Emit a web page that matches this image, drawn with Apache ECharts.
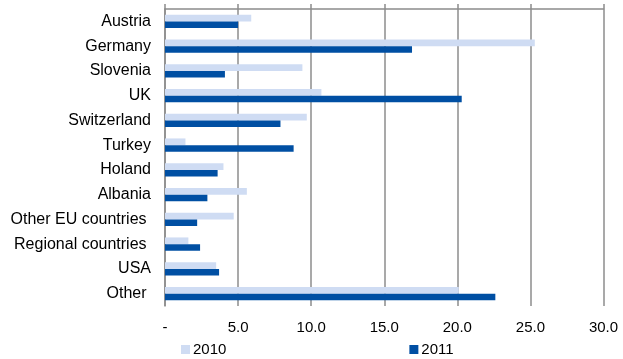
<!DOCTYPE html>
<html>
<head>
<meta charset="utf-8">
<script src="https://cdn.jsdelivr.net/npm/echarts@6/dist/echarts.min.js"></script>
<style>
  html, body { margin: 0; padding: 0; background: #fff; }
  #chart { width: 623px; height: 359px; }
</style>
</head>
<body>
<div id="chart"></div>
<script>
// Countries (trailing spaces keep the label spacing as typeset)
const categories = ['Austria', 'Germany', 'Slovenia', 'UK', 'Switzerland', 'Turkey', 'Holand', 'Albania', 'Other EU countries ', 'Regional countries ', 'USA', 'Other '];
const values2010 = [5.9, 25.3, 9.4, 10.7, 9.7, 1.4, 4.0, 5.6, 4.7, 1.6, 3.5, 20.1];
const values2011 = [5.0, 16.9, 4.1, 20.3, 7.9, 8.8, 3.6, 2.9, 2.2, 2.4, 3.7, 22.6];
const seriesNames = ['2010', '2011'];
const axisMin = 0, axisMax = 30, axisStep = 5;

const FONT = '"Liberation Sans", Arial, sans-serif';
const GRID_COLOR = '#8c8c8c';

const chart = echarts.init(document.getElementById('chart'), null, { renderer: 'canvas' });

const valueAxisBase = {
  type: 'value',
  min: axisMin,
  max: axisMax,
  interval: axisStep
};

chart.setOption({
  animation: false,
  backgroundColor: '#ffffff',
  textStyle: { fontFamily: FONT },
  grid: { left: 165, right: 19.5, top: 9, bottom: 53, containLabel: false },
  legend: {
    data: seriesNames,
    left: 181,
    top: 342,
    padding: 0,
    itemWidth: 9,
    itemHeight: 9,
    itemGap: 183,
    icon: 'rect',
    textStyle: { fontFamily: FONT, fontSize: 15, color: '#000', padding: [0, 0, 0, -2] }
  },
  xAxis: [
    Object.assign({}, valueAxisBase, {
      position: 'top',
      axisLine: { show: true, lineStyle: { color: GRID_COLOR, width: 1.5 } },
      axisTick: { show: true, inside: false, length: 5, lineStyle: { color: GRID_COLOR, width: 1.5 } },
      axisLabel: { show: false },
      splitLine: { show: true, lineStyle: { color: GRID_COLOR, width: 1.5 } }
    }),
    Object.assign({}, valueAxisBase, {
      position: 'bottom',
      axisLine: { show: false },
      axisTick: { show: false },
      splitLine: { show: false },
      axisLabel: {
        show: true,
        margin: 14,
        fontFamily: FONT,
        fontSize: 15,
        color: '#000',
        formatter: v => (v === 0 ? '-' : v.toFixed(1))
      }
    })
  ],
  yAxis: {
    type: 'category',
    inverse: true,
    data: categories,
    axisLine: { show: true, lineStyle: { color: GRID_COLOR, width: 1.5 } },
    axisTick: { show: false },
    axisLabel: { fontFamily: FONT, fontSize: 16, color: '#000', margin: 14 }
  },
  series: [
    {
      name: seriesNames[0],
      type: 'bar',
      xAxisIndex: 0,
      data: values2010,
      barGap: '0%',
      barCategoryGap: '46%',
      itemStyle: { color: '#cfdcf3' }
    },
    {
      name: seriesNames[1],
      type: 'bar',
      xAxisIndex: 0,
      data: values2011,
      barGap: '0%',
      barCategoryGap: '46%',
      itemStyle: { color: '#004fa3' }
    }
  ]
});
</script>
</body>
</html>
